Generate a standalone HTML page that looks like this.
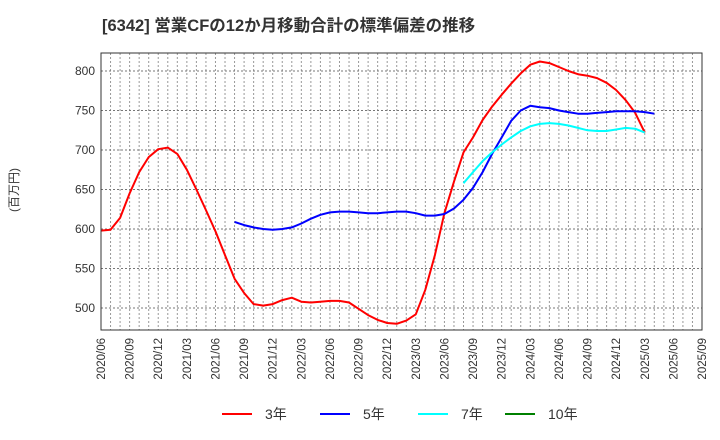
<!DOCTYPE html>
<html><head><meta charset="utf-8"><style>
body{margin:0;background:#fff;}
svg{display:block;font-family:"Liberation Sans","DejaVu Sans","Noto Sans CJK JP",sans-serif;}
</style></head><body>
<svg id="chart" width="720" height="440" viewBox="0 0 720 440">
<text x="102" y="31" font-size="16.5" font-weight="bold" fill="#333">[6342]  営業CFの12か月移動合計の標準偏差の推移</text>
<text transform="translate(18,190) rotate(-90)" text-anchor="middle" font-size="12" fill="#333">(百万円)</text>
<g id="grid"></g>
<g id="yticks"></g>
<g id="xticks"></g>
<g id="series"></g>
<rect x="101" y="53" width="601" height="277" fill="none" stroke="#333" stroke-width="1"/>
<g id="legend"></g>
</svg>
<script>
const yTicks=[500,550,600,650,700,750,800];
const xLabels=["2020/06","2020/09","2020/12","2021/03","2021/06","2021/09","2021/12","2022/03","2022/06","2022/09","2022/12","2023/03","2023/06","2023/09","2023/12","2024/03","2024/06","2024/09","2024/12","2025/03","2025/06","2025/09"];
const s3=[598,599,614,645,672,691,701,703,695,675,650,624,597,567,537,519,505,503,505,510,513,508,507,508,509,509,507,499,491,485,481,480,484,492,523,567,620,660,697,716,738,755,770,784,797,808,812,810,805,800,796,794,791,785,776,763,747,722];
const s5Start=14;
const s5=[609,605,602,600,599,600,602,607,613,618,621,622,622,621,620,620,621,622,622,620,617,617,619,626,637,652,672,695,716,737,750,756,754,753,750,748,746,746,747,748,749,749,749,748,746];
const s7Start=38;
const s7=[658,672,686,697,707,716,724,730,733,734,733,731,728,725,724,724,726,728,727,722];
const legendNames=["3年","5年","7年","10年"];
const legendColors=["#ff0000","#0000ff","#00ffff","#008000"];
const NS="http://www.w3.org/2000/svg";
const L=101,R=702,T=53,B=330,months=63;
const xs=i=>L+i*(R-L)/months;
const ys=v=>71+(800-v)*0.79;
function mk(tag,attrs,parent){const e=document.createElementNS(NS,tag);for(const k in attrs)e.setAttribute(k,attrs[k]);parent.appendChild(e);return e;}
const grid=document.getElementById('grid');
for(let i=1;i<months;i++){const l=mk('line',{x1:xs(i),x2:xs(i),y1:T,y2:B,stroke:'#999','stroke-dasharray':'2,2','stroke-width':1},grid);

}
const yg=document.getElementById('yticks');
yTicks.forEach(v=>{const l=mk('line',{x1:L,x2:R,y1:ys(v),y2:ys(v),stroke:'#777','stroke-dasharray':'2,2','stroke-width':1},grid);


const t=mk('text',{x:95,y:ys(v)+4,'text-anchor':'end','font-size':12,fill:'#333'},yg);t.textContent=v;

});
const xg=document.getElementById('xticks');
xLabels.forEach((s,i)=>{const x=xs(i*3);const t=mk('text',{transform:`translate(${x+4},338) rotate(-90)`,'text-anchor':'end','font-size':11.5,fill:'#333'},xg);t.textContent=s;

});
const sg=document.getElementById('series');
function line(data,start,color,name){const pts=data.map((v,i)=>xs(start+i).toFixed(1)+','+ys(v).toFixed(1)).join(' ');
const p=mk('polyline',{points:pts,fill:'none',stroke:color,'stroke-width':2,'stroke-linejoin':'round'},sg);

}
line(s3,0,'#ff0000','series-3y');
line(s5,s5Start,'#0000ff','series-5y');
line(s7,s7Start,'#00ffff','series-7y');
const lg=document.getElementById('legend');
const lx=[222,320,418,505];
legendNames.forEach((n,i)=>{const g=mk('g',{},lg);


mk('line',{x1:lx[i],x2:lx[i]+30,y1:414,y2:414,stroke:legendColors[i],'stroke-width':2},g);
const t=mk('text',{x:lx[i]+43,y:419,'font-size':14,fill:'#333'},g);t.textContent=n;});
</script>
</body></html>
